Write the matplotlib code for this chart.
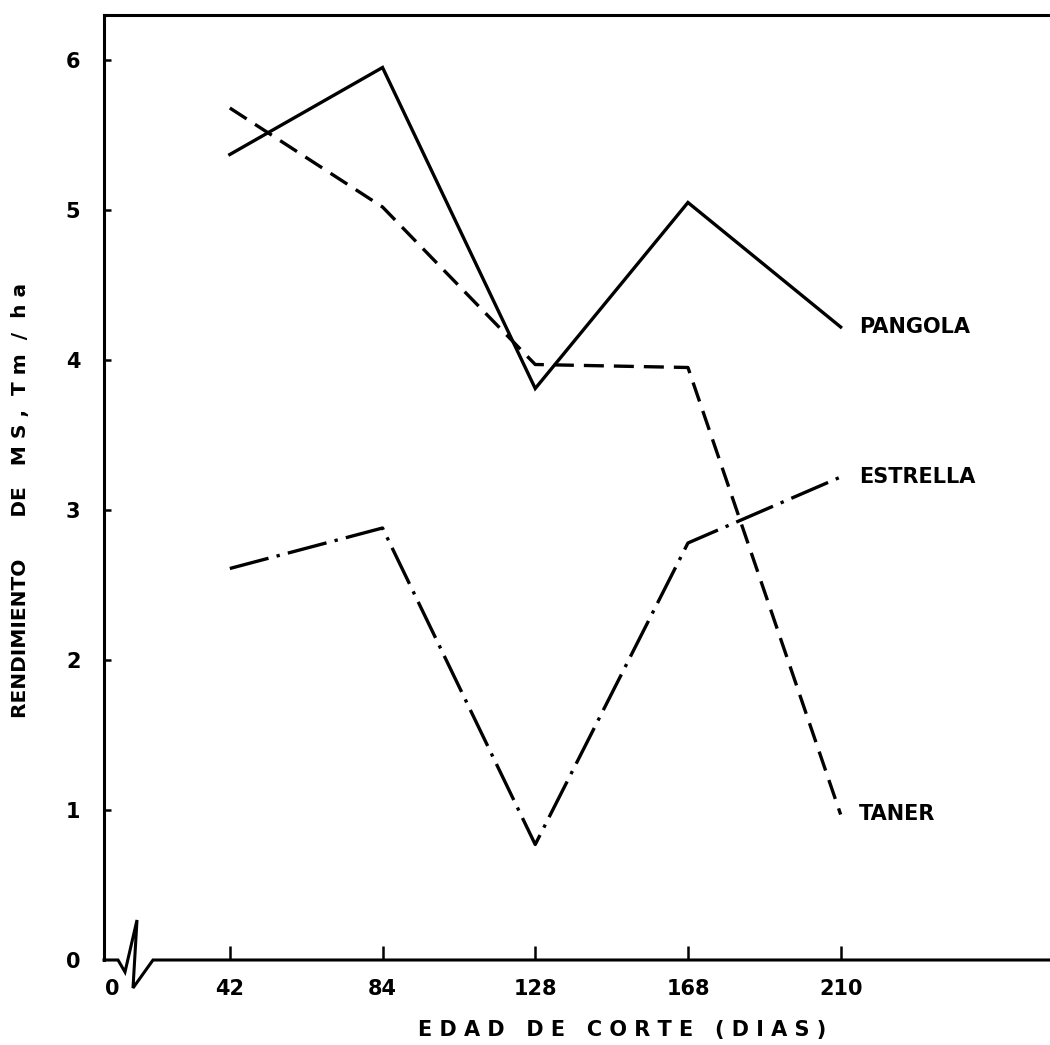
import numpy as np
import matplotlib
matplotlib.use('Agg')
import matplotlib.pyplot as plt

plt.rcParams['font.family'] = 'DejaVu Sans'
plt.rcParams['font.weight'] = 'bold'

# edad de corte (dias) and dry matter yield (Tm/ha)
dias = ['42', '84', '128', '168', '210']
pangola = [5.37, 5.95, 3.81, 5.05, 4.22]
taner = [5.68, 5.02, 3.97, 3.95, 0.97]
estrella = [2.61, 2.88, 0.77, 2.78, 3.22]
yticks = [0, 1, 2, 3, 4, 5, 6]

pos = np.arange(1, len(dias) + 1)

fig = plt.figure(figsize=(10.5, 10.45), dpi=100)
ax = fig.add_axes([104/1050, 1 - 960/1045, 946/1050, 945/1045])

lw = 2.4
ax.plot(pos, pangola, color='black', lw=lw, solid_joinstyle='miter')
ax.plot(pos, taner, color='black', lw=lw, dashes=(6, 3))
ax.plot(pos, estrella, color='black', lw=lw, dashes=(12, 2.5, 1, 2.5))

# series names at the end of each line
for name, vals in [('PANGOLA', pangola), ('ESTRELLA', estrella), ('TANER', taner)]:
    ax.annotate(name, (pos[-1], vals[-1]), xytext=(13, 0), textcoords='offset points',
                va='center', ha='left', fontsize=15, fontweight='bold')

ax.set_xlim(0.176, 6.371)
ax.set_ylim(0, 6.3)

ax.set_yticks(yticks)
ax.set_yticklabels([str(t) for t in yticks])
ax.set_xticks([0.229] + list(pos))
ax.set_xticklabels(['0'] + dias)
ax.tick_params(axis='y', direction='in', length=5, width=1.8, pad=17, labelsize=15)
ax.tick_params(axis='x', direction='in', length=10, width=1.8, pad=14, labelsize=15)
ax.xaxis.get_major_ticks()[0].tick1line.set_visible(False)
ax.yaxis.get_major_ticks()[0].tick1line.set_visible(False)

ax.spines['right'].set_visible(False)
ax.spines['bottom'].set_visible(False)
ax.spines['left'].set_linewidth(2.2)
ax.spines['top'].set_linewidth(2.2)

# broken x axis near origin
W, H = 946.0, 945.0
bx = np.array([0, 14, 21, 33, 29, 49, 946]) / W
by = np.array([0, 0, -12, 40, -28, 0, 0]) / H
ax.plot(bx, by, color='black', lw=2.2, transform=ax.transAxes, clip_on=False,
        solid_joinstyle='miter')

fig.text(622/1050, 1 - 1030/1045, 'E D A D   D E   C O R T E   ( D I A S )',
         ha='center', va='center', fontsize=15, fontweight='bold')
fig.text(21/1050, 1 - 500/1045, 'RENDIMIENTO      DE   M S ,  T m  /  h a', rotation=90,
         ha='center', va='center', fontsize=14.5, fontweight='bold')

fig.savefig('out.png', dpi=100, facecolor='white')
